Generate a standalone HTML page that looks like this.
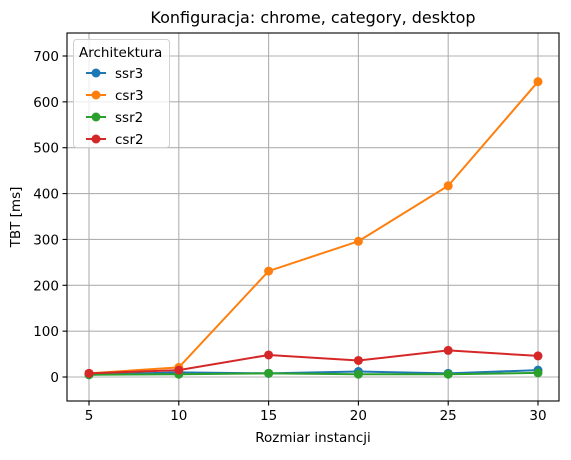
<!DOCTYPE html>
<html><head><meta charset="utf-8"><style>
body{margin:0;background:#fff;font-family:"Liberation Sans","DejaVu Sans",sans-serif}
svg text{font-family:"DejaVu Sans","Liberation Sans",sans-serif}
</style></head><body>
<svg id="c" width="571" height="455" xmlns="http://www.w3.org/2000/svg"></svg>
<script>
const categories=[5,10,15,20,25,30];
const ssr3=[5,10,8,12,8,15];
const csr3=[8,21,231,296,417,644];
const ssr2=[5,6,8,6,6,9];
const csr2=[8,15,48,36,58,46];
const yTicks=[0,100,200,300,400,500,600,700];
const seriesNames=['ssr3','csr3','ssr2','csr2'];
const L=67,R=559,T=33,B=401;
const xs=v=>89+(v-5)*(538-89)/25;
const ys=v=>377-v*(377-56)/700;
const NS='http://www.w3.org/2000/svg';
const svg=document.getElementById('c');
function mk(t,a,p){const e=document.createElementNS(NS,t);for(const k in a)e.setAttribute(k,a[k]);(p||svg).appendChild(e);return e;}
for(const t of yTicks){const g=mk('line',{x1:L,x2:R,y1:ys(t),y2:ys(t),stroke:'#b0b0b0','stroke-width':1.1});

}
for(const c of categories){const g=mk('line',{x1:xs(c),x2:xs(c),y1:T,y2:B,stroke:'#b0b0b0','stroke-width':1.1});

}
for(const t of yTicks){mk('line',{x1:L-4.5,x2:L,y1:ys(t),y2:ys(t),stroke:'#000','stroke-width':1.1});
const tx=mk('text',{x:L-8,y:ys(t)+5,'text-anchor':'end','font-size':13.5});tx.textContent=t;

}
for(const c of categories){mk('line',{x1:xs(c),x2:xs(c),y1:B,y2:B+4.5,stroke:'#000','stroke-width':1.1});
const tx=mk('text',{x:xs(c),y:B+19,'text-anchor':'middle','font-size':13.5});tx.textContent=c;

}
const data=[ssr3,csr3,ssr2,csr2];const cols=['#1f77b4','#ff7f0e','#2ca02c','#d62728'];
data.forEach((d,i)=>{const g=mk('g',{});


mk('polyline',{points:d.map((v,j)=>xs(categories[j])+','+ys(v)).join(' '),fill:'none',stroke:cols[i],'stroke-width':2});
d.forEach((v,j)=>{const p=mk('circle',{cx:xs(categories[j]),cy:ys(v),r:4.5,fill:cols[i]},g);

});});
mk('rect',{x:L,y:T,width:R-L,height:B-T,fill:'none',stroke:'#000','stroke-width':1.1});
const lg=mk('g',{});


mk('rect',{x:73.5,y:39.5,width:96,height:108,rx:3,fill:'#fff','fill-opacity':0.8,stroke:'#d0d0d0'},lg);
const lt=mk('text',{x:79,y:57,'font-size':13.5},lg);lt.textContent='Architektura';
seriesNames.forEach((n,i)=>{const y=73+i*22;
const e=mk('g',{},lg);


mk('line',{x1:86,x2:106,y1:y,y2:y,stroke:cols[i],'stroke-width':2},e);
mk('circle',{cx:96,cy:y,r:4.5,fill:cols[i]},e);
const t=mk('text',{x:115,y:y+5,'font-size':13.5},e);t.textContent=n;});
let t=mk('text',{x:313,y:23,'text-anchor':'middle','font-size':16});t.textContent='Konfiguracja: chrome, category, desktop';


t=mk('text',{x:313,y:442,'text-anchor':'middle','font-size':13.5});t.textContent='Rozmiar instancji';


t=mk('text',{x:20,y:217,'text-anchor':'middle','font-size':13.5,transform:'rotate(-90 20 217)'});t.textContent='TBT [ms]';


</script>
</body></html>
